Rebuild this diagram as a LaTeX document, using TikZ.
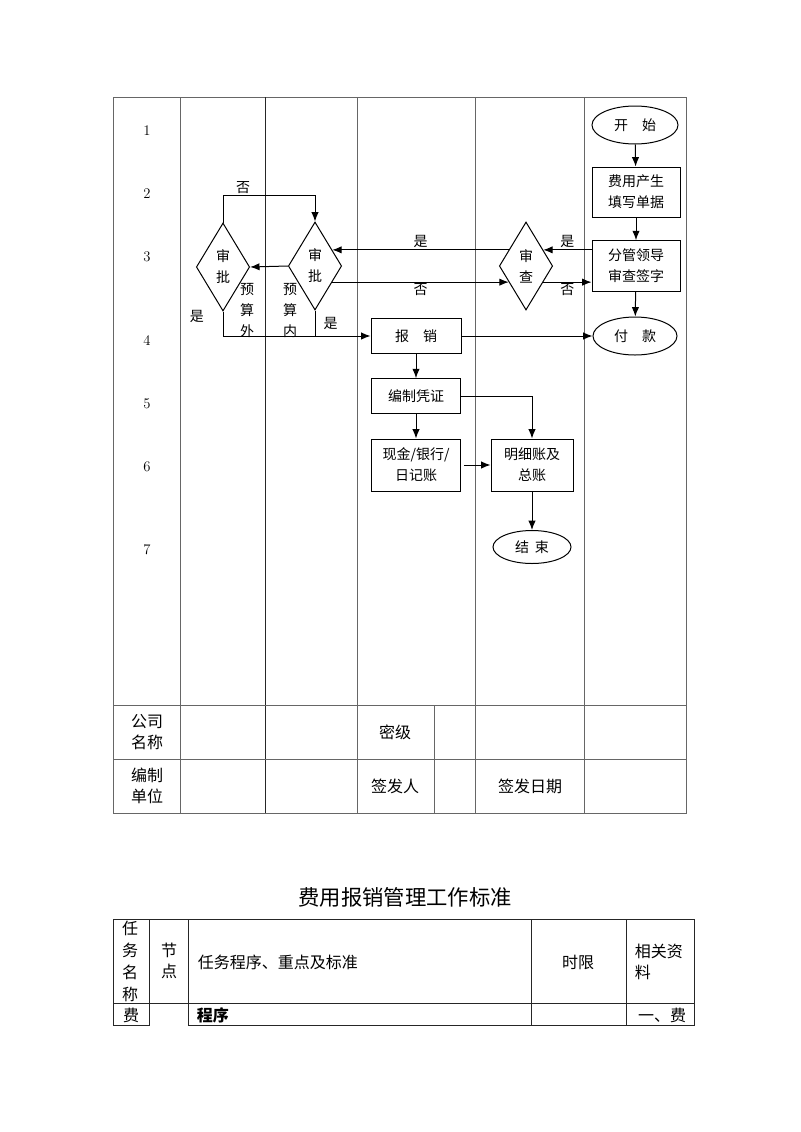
\documentclass[tikz,border=0pt]{standalone}
\usepackage{fontspec}
\newfontfamily\cjk{Noto Sans CJK SC}
\usetikzlibrary{shapes.geometric,arrows.meta}
\begin{document}
\begin{tikzpicture}[x=0.75pt, y=-0.75pt, line width=0.75pt, >={Latex[length=7pt,width=5.5pt]},
  every node/.style={font=\cjk\fontsize{10.5}{15.75}\selectfont, inner sep=1pt},
  grid/.style={draw=black!60},
  box/.style={draw, align=center, minimum width=66pt, minimum height=26pt},
  oval/.style={draw, ellipse, minimum width=64.5pt, minimum height=28.5pt},
  chk/.style={draw, diamond, align=center, minimum width=40pt, minimum height=66pt, inner sep=0pt},
  big/.style={font=\cjk\fontsize{12}{15.75}\selectfont, align=center}]
\useasboundingbox (0,0) rectangle (800,1132);

\draw[grid] (113,97) rectangle (686,813);
\foreach \x in {180,357,475,584} \draw[grid] (\x,97) -- (\x,813);
\draw[grid, draw=black!85] (265,97) -- (265,813);
\draw[grid] (113,705) -- (686,705);
\draw[grid] (113,759) -- (686,759);
\draw[grid] (434,705) -- (434,813);

\foreach \n/\y in {1/131,2/194,3/257,4/341,5/404,6/467,7/550}
  \node[font=\normalfont\fontsize{11}{13}\selectfont] (r\n) at (147,\y) {\n};

\node[oval] (ks) at (635,125) {开\quad 始};
\node[box, minimum height=37.5pt] (fy) at (636,192) {费用产生\\填写单据};
\node[box, minimum height=38pt] (fg) at (636,266) {分管领导\\审查签字};
\node[oval, minimum width=63pt] (fk) at (635,336) {付\quad 款};
\node[chk] (sc) at (526,266) {审\\查};
\node[chk] (sp2) at (315,266) {审\\批};
\node[chk] (sp1) at (223,267) {审\\批};
\node[box, minimum width=67.5pt] (bx) at (416,336) {报\quad 销};
\node[box, minimum width=67pt] (bz) at (416,396) {编制凭证};
\node[box, minimum width=67pt, minimum height=39pt] (xj) at (416,465) {现金/银行/\\日记账};
\node[box, minimum width=61.5pt, minimum height=39pt] (mx) at (532,465) {明细账及\\总账};
\node[oval, minimum width=58.5pt, minimum height=24.75pt] (js) at (532,547) {结\hspace{0.4em}束};
\node[align=center] (yw) at (247,310) {预\\算\\外};
\node[align=center] (yn) at (290,310) {预\\算\\内};

\path[->] (ks) edge (fy);
\path[->] (fy) edge (fg);
\path[->] (fg) edge (fk);
\path[->] (fg.west |- sc.43) edge node[above] {是} (sc.43);
\path[->] (sc.-43) edge node[below] {否} (fg.west |- sc.-43);
\path[->] (sc.137) edge node[above] {是} (sp2.43);
\path[->] (sp2.-43) edge node[below] {否} (sc.-137);
\path[->] (sp2.west) edge (sp1.east);
\draw[->] (sp1.north) -- ++(0,-27) -| node[above, pos=0.11] {否} (sp2.north);
\draw[->] (sp1.south) |- node[pos=0.1, left=13pt] {是} (bx.west);
\draw (sp2.south) -- node[right=5pt] {是} (sp2.south |- bx.west);
\path[->] (bx) edge (fk);
\path[->] (bx) edge (bz);
\draw[->] (bz.east) -| (mx.north);
\path[->] (bz) edge (xj);
\path[->] (xj.east) edge[shorten <=2pt] (mx.west);
\path[->] (mx) edge (js);

\node[big] (gs) at (147,732) {公司\\名称};
\node[big] (mj) at (395,732) {密级};
\node[big] (bd) at (147,786) {编制\\单位};
\node[big] (qf) at (395,786) {签发人};
\node[big] (rq) at (530,786) {签发日期};

\node[font=\cjk\fontsize{16}{18}\selectfont] (bt) at (405,897) {费用报销管理工作标准};

\draw[grid, draw=black!85] (113,919) rectangle (694,1003);
\draw[grid, draw=black!85] (113,1003) -- (113,1025) -- (149,1025) -- (149,919);
\draw[grid, draw=black!85] (188,919) -- (188,1025) -- (694,1025) -- (694,1003);
\foreach \x in {531,626} \draw[grid, draw=black!85] (\x,919) -- (\x,1025);

\node[big, font=\cjk\fontsize{12}{16.3}\selectfont] (rw) at (130,961.5) {任\\务\\名\\称};
\node[big] (jd) at (169,960.5) {节\\点};
\node[big, anchor=west] (cx) at (196,962) {任务程序、重点及标准};
\node[big] (sx) at (578,962) {时限};
\node[big, align=left, anchor=west] (zl) at (633,961.5) {相关资\\料};
\node[big] (f1) at (131,1015) {费};
\node[big, anchor=west, font=\cjk\bfseries\fontsize{12}{15.75}\selectfont] (cx2) at (195,1015) {程序};
\node[big, anchor=east] (f2) at (688,1015) {一、费};
\end{tikzpicture}
\end{document}
